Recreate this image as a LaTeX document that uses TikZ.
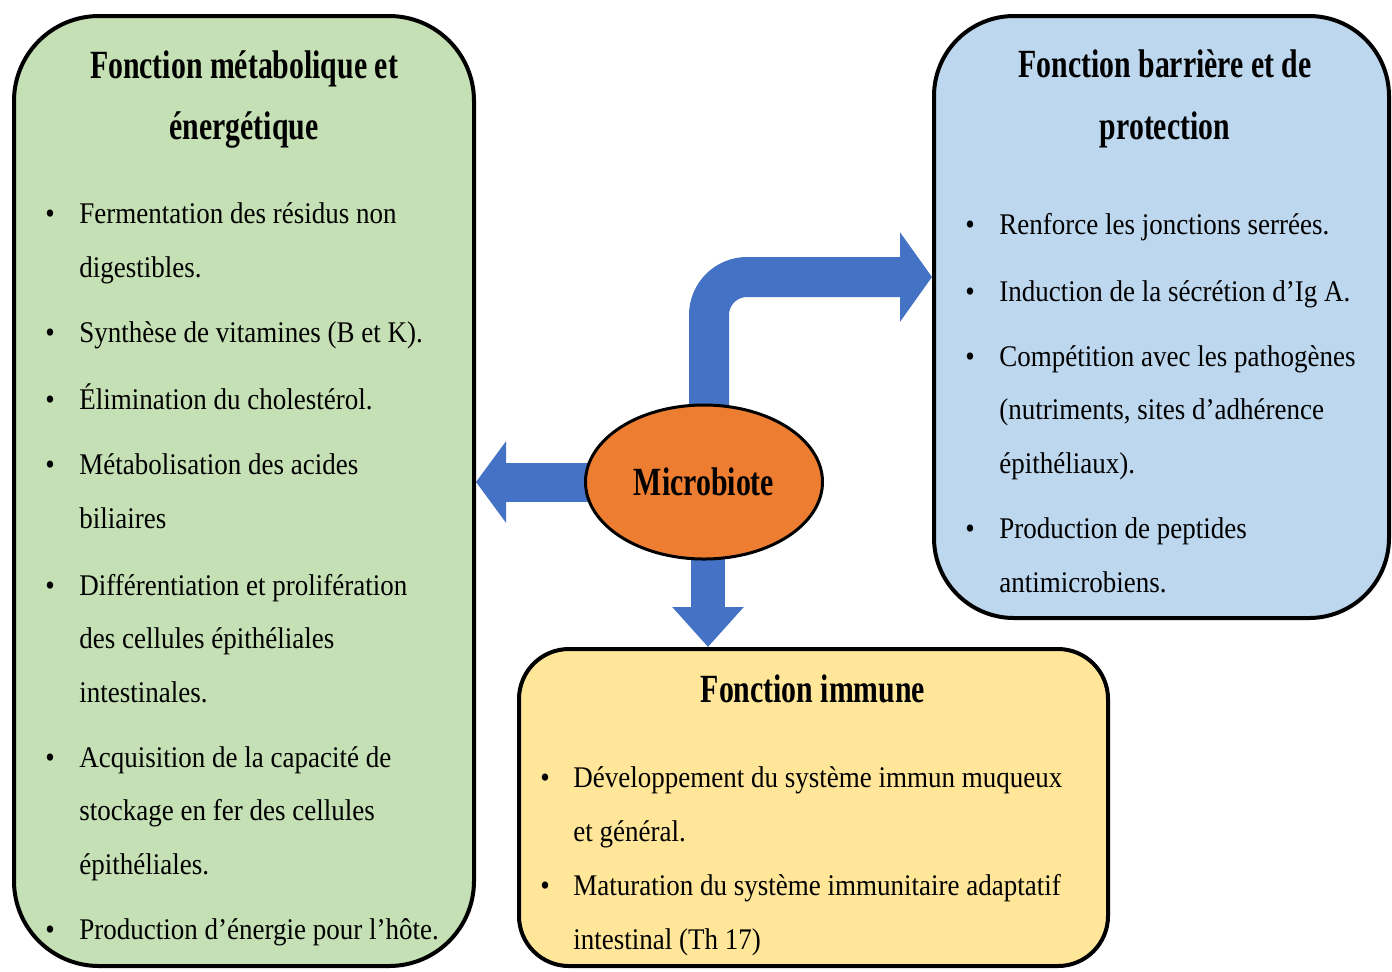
\documentclass[tikz,border=0pt]{standalone}
\usepackage{fontspec}
\setmainfont{Liberation Serif}
\newfontfamily\bodyfont{Liberation Serif}[FakeStretch=0.90]
\newfontfamily\headfont{Liberation Serif}[FakeStretch=0.745]
\usepackage{tikz}
\usetikzlibrary{shapes.geometric}
\usetikzlibrary{arrows.meta}
\usetikzlibrary{backgrounds}
\definecolor{Box-green}{RGB}{197,224,180}
\definecolor{Box-blue}{RGB}{189,215,238}
\definecolor{Box-yellow}{RGB}{255,230,153}
\definecolor{Micro-orange}{RGB}{237,125,49}
\definecolor{Arrow-blue}{RGB}{68,114,196}

\begin{document}
\begin{tikzpicture}[x=0.5pt, y=-0.5pt]
    \tikzset{ fbox/.style ={draw=black, line width=2pt, inner sep=0pt} }
    \tikzset{ hd/.style   ={inner sep=0pt, anchor=mid, font=\headfont\bfseries\fontsize{20}{23}\selectfont} }
    \tikzset{ ln/.style   ={inner sep=0pt, anchor=mid west, font=\bodyfont\fontsize{15}{18}\selectfont} }
    \tikzset{ blt/.style  ={inner sep=0pt, anchor=mid, font=\bodyfont\fontsize{15}{18}\selectfont} }
    \tikzset{ blk/.style  ={draw=Arrow-blue, fill=Arrow-blue} }

    \useasboundingbox (0,0) rectangle (1392,971);

    \node[fbox, fill=Box-green,  rounded corners=42.5pt, minimum width=230pt,   minimum height=475pt  ] (met)   at (244,491)     {};
    \node[fbox, fill=Box-blue,   rounded corners=40pt,   minimum width=227.5pt, minimum height=301pt  ] (bar)   at (1161.5,317)  {};
    \node[fbox, fill=Box-yellow, rounded corners=25pt,   minimum width=294.5pt, minimum height=158.5pt] (imm)   at (813.5,807.5) {};
    \node[ellipse, draw=black, line width=1.5pt, fill=Micro-orange, inner sep=0pt, minimum width=118.5pt, minimum height=77pt,
          font=\headfont\bfseries\fontsize{20}{23}\selectfont                                         ] (micro) at (704,482)     {Microbiote};

    \begin{pgfonlayer}{background}
    \draw[blk, fill=none, line width=20pt, rounded corners=19pt, -{Triangle[width=44pt, length=16pt]}] ([xshift=2.5pt]micro.center) |- ([yshift=20pt]bar.west);
    \draw[blk, fill=none, line width=19.5pt, -{Triangle[width=40pt, length=15pt]}  ] (micro.center)             -- (micro.center -| met.east);
    \draw[blk, fill=none, line width=17pt,   -{Triangle[width=34.5pt, length=20pt]}] ([xshift=2pt]micro.center) -- ([xshift=2pt]micro.center |- imm.north);
    \end{pgfonlayer}

    % titres
    \node[hd] (met-h1) at (244,74)  {Fonction métabolique et};
    \node[hd] (met-h2) at (244,135) {énergétique};
    \node[hd] (bar-h1) at (1165,73) {Fonction barrière et de};
    \node[hd] (bar-h2) at (1165,135){protection};
    \node[hd] (imm-h)  at (813,698) {Fonction immune};

    % fonction metabolique
    \foreach \ltext/\yy [count=\i] in {{Fermentation des résidus non}/219, {digestibles.}/273, {Synthèse de vitamines (B et K).}/338,
        {Élimination du cholestérol.}/405, {Métabolisation des acides}/470, {biliaires}/524, {Différentiation et prolifération}/591,
        {des cellules épithéliales}/644, {intestinales.}/698, {Acquisition de la capacité de}/763, {stockage en fer des cellules}/816,
        {épithéliales.}/870, {Production d’énergie pour l’hôte.}/935}
        \node[ln] (met-l\i) at (79,\yy) {\ltext};
    \foreach \yy [count=\i] in {219,338,405,470,591,763,935}
        \node[blt] (met-b\i) at (50,\yy) {\textbullet};

    % fonction barriere
    \foreach \ltext/\yy [count=\i] in {{Renforce les jonctions serrées.}/230, {Induction de la sécrétion d’Ig A.}/297,
        {Compétition avec les pathogènes}/362, {(nutriments, sites d’adhérence}/415, {épithéliaux).}/469,
        {Production de peptides}/534, {antimicrobiens.}/588}
        \node[ln] (bar-l\i) at (999,\yy) {\ltext};
    \foreach \yy [count=\i] in {230,297,362,534}
        \node[blt] (bar-b\i) at (970,\yy) {\textbullet};

    % fonction immune
    \foreach \ltext/\yy [count=\i] in {{Développement du système immun muqueux}/783, {et général.}/837,
        {Maturation du système immunitaire adaptatif}/891, {intestinal (Th 17)}/945}
        \node[ln] (imm-l\i) at (573,\yy) {\ltext};
    \foreach \yy [count=\i] in {783,891}
        \node[blt] (imm-b\i) at (545,\yy) {\textbullet};
\end{tikzpicture}
\end{document}
